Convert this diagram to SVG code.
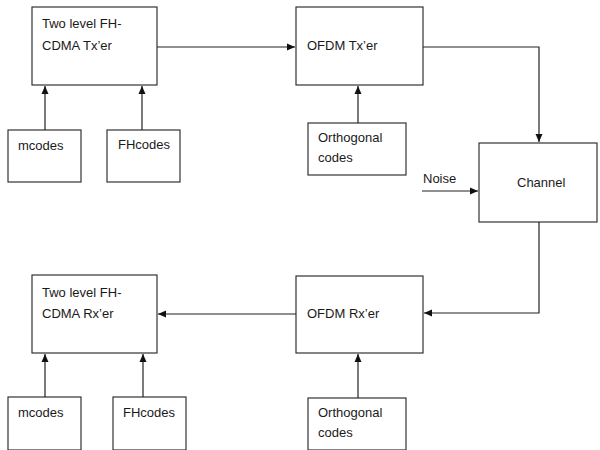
<svg xmlns="http://www.w3.org/2000/svg" width="600" height="450" viewBox="0 0 600 450">
<defs>
<marker id="ah" markerWidth="8" markerHeight="8" refX="8" refY="4" orient="auto" markerUnits="userSpaceOnUse">
<path d="M0,0.5 L8,4 L0,7.5 Z" fill="#111"/>
</marker>
<style>
.box{fill:#fff;stroke:#333;stroke-width:1.2}
.t{font-family:"Liberation Sans",Arial,sans-serif;font-size:13px;fill:#1a1a1a}
.c{fill:none;stroke:#222;stroke-width:1.2;marker-end:url(#ah)}
</style>
</defs>
<rect width="600" height="450" fill="#fff"/>
<g id="tx">
<rect class="box" x="32" y="7" width="125" height="78"/>
<text class="t" x="42" y="28">Two level FH-</text>
<text class="t" x="42" y="50">CDMA Tx’er</text>
</g>
<g id="mcodes1">
<rect class="box" x="8" y="130" width="73" height="52"/>
<text class="t" x="18" y="150">mcodes</text>
</g>
<g id="fhcodes1">
<rect class="box" x="107" y="130" width="73" height="52"/>
<text class="t" x="118" y="149">FHcodes</text>
</g>
<g id="ofdmtx">
<rect class="box" x="296" y="7" width="127" height="78"/>
<text class="t" x="307" y="50">OFDM Tx’er</text>
</g>
<g id="orth1">
<rect class="box" x="308" y="123" width="98" height="52"/>
<text class="t" x="318" y="142">Orthogonal</text>
<text class="t" x="318" y="162">codes</text>
</g>
<g id="channel">
<rect class="box" x="479" y="143" width="118" height="79"/>
<text class="t" x="517" y="187">Channel</text>
</g>
<g id="noise">
<text class="t" x="423" y="183">Noise</text>
</g>
<g id="ofdmrx">
<rect class="box" x="296" y="276" width="127" height="77"/>
<text class="t" x="307" y="318">OFDM Rx’er</text>
</g>
<g id="orth2">
<rect class="box" x="308" y="398" width="98" height="52"/>
<text class="t" x="318" y="417">Orthogonal</text>
<text class="t" x="318" y="437">codes</text>
</g>
<g id="rx">
<rect class="box" x="32" y="275" width="125" height="78"/>
<text class="t" x="42" y="297">Two level FH-</text>
<text class="t" x="42" y="318">CDMA Rx’er</text>
</g>
<g id="mcodes2">
<rect class="box" x="8" y="397" width="73" height="53"/>
<text class="t" x="18" y="417">mcodes</text>
</g>
<g id="fhcodes2">
<rect class="box" x="113" y="397" width="73" height="53"/>
<text class="t" x="123" y="417">FHcodes</text>
</g>
<g id="connectors">
<path class="c" d="M157,47 H295"/>
<path class="c" d="M45,130 V86"/>
<path class="c" d="M142,130 V86"/>
<path class="c" d="M358,123 V86"/>
<path class="c" d="M423,47 H539 V142"/>
<path class="c" d="M422,191 H478"/>
<path class="c" d="M539,222 V313 H424"/>
<path class="c" d="M358,398 V354"/>
<path class="c" d="M296,314 H158"/>
<path class="c" d="M45,397 V354"/>
<path class="c" d="M143,397 V354"/>
</g>
</svg>
